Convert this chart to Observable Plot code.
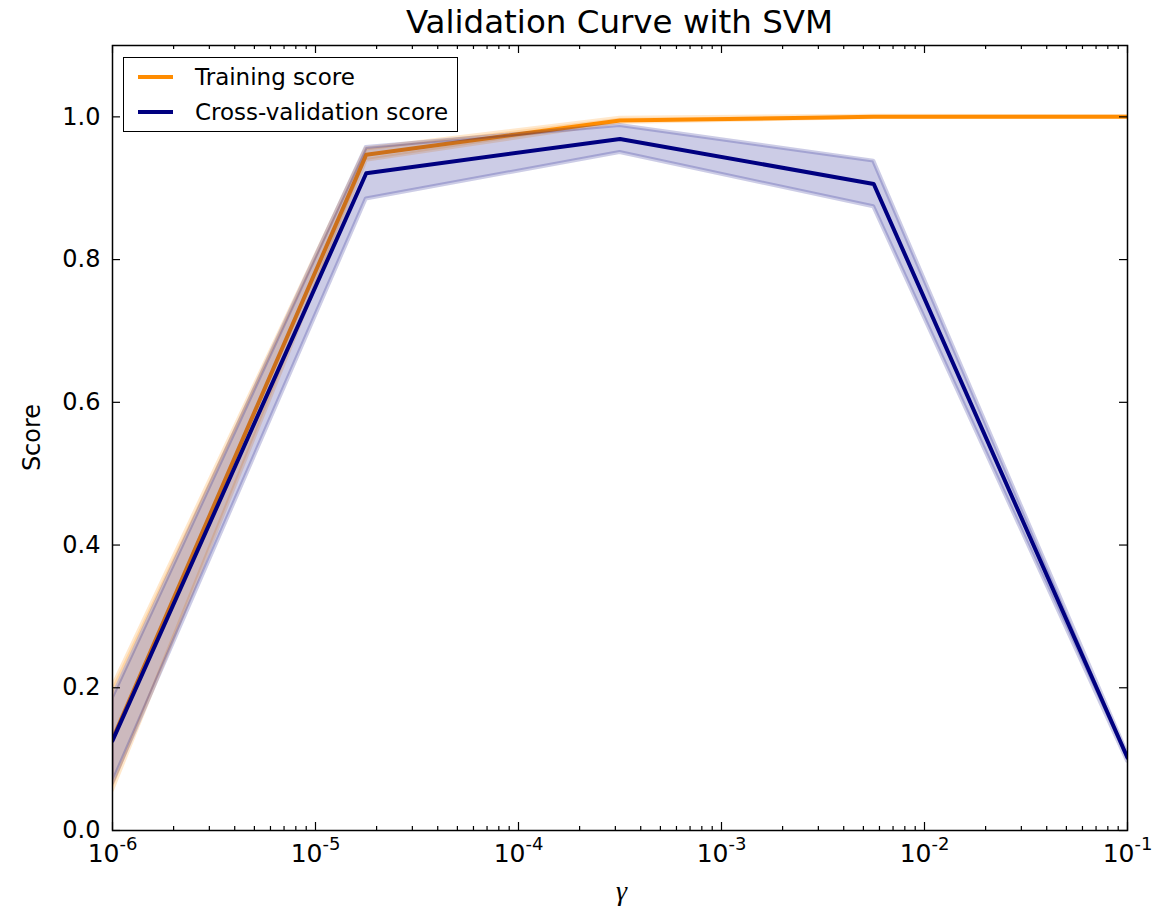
<!DOCTYPE html>
<html>
<head>
<meta charset="utf-8">
<script src="https://cdn.jsdelivr.net/npm/d3@7"></script>
<script src="https://cdn.jsdelivr.net/npm/@observablehq/plot@0.6"></script>
<style>
  body { margin: 0; background: #fff; font-family: "DejaVu Sans", sans-serif; }
  #wrap { position: relative; width: 1158px; height: 910px; }
  #legend { position: absolute; left: 123px; top: 57px; width: 335px; height: 75px;
            border: 1.5px solid #000; box-sizing: border-box; background: #fff; }
  .row { position: absolute; left: 0; height: 30px; display: flex; align-items: center; }
  .swatch { position: absolute; left: 14px; width: 35px; height: 4px; }
  .label { position: absolute; left: 71px; font-size: 23px; white-space: nowrap; color: #000; line-height: 30px; }
</style>
</head>
<body>
<div id="wrap">
  <div id="legend"></div>
</div>
<script>
// SVM validation curve: mean score ± one standard deviation over gamma
const gamma     = [1e-6, 1.778e-5, 3.162e-4, 5.623e-3, 1e-1];
const trainMean = [0.128, 0.947, 0.995, 1.000, 1.000];
const trainStd  = [0.072, 0.008, 0.003, 0.001, 0.000];
const cvMean    = [0.126, 0.921, 0.969, 0.906, 0.102];
const cvStd     = [0.060, 0.036, 0.019, 0.032, 0.005];

const seriesNames  = ["Training score", "Cross-validation score"];
const seriesColors = ["darkorange", "navy"];

const xMajorTicks = [1e-6, 1e-5, 1e-4, 1e-3, 1e-2, 1e-1];
const yTickValues = [0.0, 0.2, 0.4, 0.6, 0.8, 1.0];

const titleText = "Validation Curve with SVM";
const xLabel = "γ";
const yLabel = "Score";

// layout
const W = 1158, H = 910;
const M = {top: 45, right: 31, bottom: 80, left: 112};
const innerW = W - M.left - M.right;
const innerH = H - M.top - M.bottom;

const xMinorTicks = d3.range(-6, -1).flatMap(k => d3.range(2, 10).map(m => m * Math.pow(10, k)));

const rows = (mean, std) => gamma.map((g, i) => ({g, mean: mean[i], lo: mean[i] - std[i], hi: mean[i] + std[i]}));
const train = rows(trainMean, trainStd);
const cv = rows(cvMean, cvStd);

const band = (data, color) => Plot.areaY(data, {
  x: "g", y1: "lo", y2: "hi", fill: color, fillOpacity: 0.2,
  stroke: color, strokeOpacity: 0.2, strokeWidth: 4, clip: true
});
const line = (data, color) => Plot.lineY(data, {
  x: "g", y: "mean", stroke: color, strokeWidth: 4, clip: true
});
const tickStyle = {stroke: "#000", strokeWidth: 1.2};

const chart = Plot.plot({
  width: W, height: H,
  marginTop: M.top, marginRight: M.right, marginBottom: M.bottom, marginLeft: M.left,
  style: {fontFamily: '"DejaVu Sans", sans-serif', fontSize: "24px", color: "#000", background: "#fff", overflow: "visible"},
  x: {type: "log", domain: [1e-6, 1e-1]},
  y: {domain: [0, 1.1]},
  marks: [
    band(train, seriesColors[0]),
    line(train, seriesColors[0]),
    band(cv, seriesColors[1]),
    line(cv, seriesColors[1]),
    Plot.frame({stroke: "#000", strokeWidth: 1.5}),
    // inward ticks on all four sides
    Plot.tickX(xMajorTicks, {x: d => d, insetTop: innerH - 8, ...tickStyle}),
    Plot.tickX(xMajorTicks, {x: d => d, insetBottom: innerH - 8, ...tickStyle}),
    Plot.tickX(xMinorTicks, {x: d => d, insetTop: innerH - 4, ...tickStyle}),
    Plot.tickX(xMinorTicks, {x: d => d, insetBottom: innerH - 4, ...tickStyle}),
    Plot.tickY(yTickValues, {y: d => d, insetRight: innerW - 8, ...tickStyle}),
    Plot.tickY(yTickValues, {y: d => d, insetLeft: innerW - 8, ...tickStyle}),
    Plot.axisX(xMajorTicks, {tickSize: 0, tickPadding: 14, label: null, fontSize: 25,
      tickFormat: d => String(Math.round(Math.log10(d)))}),
    Plot.axisY(yTickValues, {tickSize: 0, tickPadding: 12, label: null, fontSize: 24,
      tickFormat: d => d.toFixed(1)})
  ]
});

document.getElementById("wrap").prepend(chart);

const svg = d3.select(chart);

// powers of ten: "10" with a raised exponent
svg.selectAll('g[aria-label="x-axis tick label"] text').each(function () {
  const exp = this.textContent;
  const t = d3.select(this).text("");
  t.append("tspan").text("10");
  t.append("tspan").attr("dy", -12).attr("font-size", 18).text(exp);
});

// title and axis labels
svg.append("text")
  .attr("x", M.left + innerW / 2).attr("y", 33)
  .attr("text-anchor", "middle").attr("font-size", 32.5).attr("fill", "#000")
  .text(titleText);
svg.append("text")
  .attr("transform", `translate(40,${M.top + innerH / 2}) rotate(-90)`)
  .attr("text-anchor", "middle").attr("font-size", 24).attr("fill", "#000")
  .text(yLabel);
svg.append("text")
  .attr("x", M.left + innerW / 2 + 2).attr("y", 900)
  .attr("text-anchor", "middle").attr("font-size", 28)
  .attr("font-family", '"Liberation Serif", "DejaVu Serif", serif').attr("font-style", "italic")
  .attr("fill", "#000")
  .text(xLabel);

// legend
const legend = d3.select("#legend");
seriesNames.forEach((name, i) => {
  const row = legend.append("div").attr("class", "row").style("top", `${4 + i * 35}px`);
  row.append("div").attr("class", "swatch").style("background", seriesColors[i]).style("top", "13px");
  row.append("div").attr("class", "label").text(name);
});
</script>
</body>
</html>
